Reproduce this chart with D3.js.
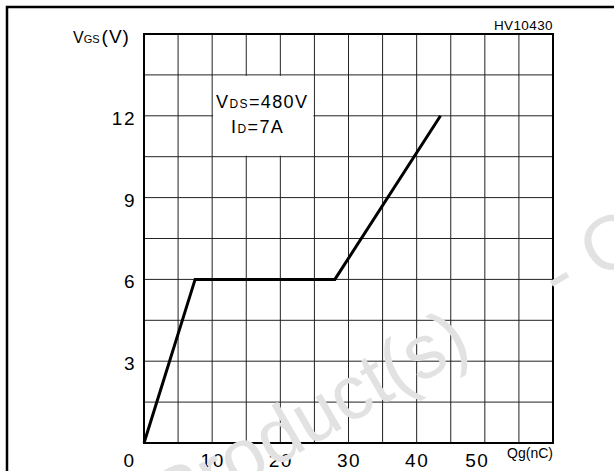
<!DOCTYPE html>
<html>
<head>
<meta charset="utf-8">
<script src="https://cdn.jsdelivr.net/npm/d3@7"></script>
<style>
  body { margin: 0; background: #fff; }
  svg { display: block; }
  text { font-family: "Liberation Sans", Arial, sans-serif; fill: #000; }
</style>
</head>
<body>
<div class="chart"></div>
<script>
// gate charge curve (Qg in nC, Vgs in V)
let qg = [0, 7.5, 28, 43.5];
let vgs = [0, 6, 6, 12];
let xTicks = [0, 10, 20, 30, 40, 50];
let yTicks = [3, 6, 9, 12];
let x_domain = [0, 60];
let y_domain = [0, 15];

let width = 614;
let height = 471;
let plot = { left: 144, right: 553, top: 34, bottom: 443 };

let svg = d3.select(".chart")
  .append("svg")
  .attr("width", width)
  .attr("height", height);

let x = d3.scaleLinear().domain(x_domain).range([plot.left, plot.right]);
let y = d3.scaleLinear().domain(y_domain).range([plot.bottom, plot.top]);

// outer frame (only top and left show in the crop)
svg.append("path")
  .attr("d", "M7," + (height + 5) + " V7 H" + (width + 5))
  .attr("fill", "none")
  .attr("stroke", "#000")
  .attr("stroke-width", 2.5);

// grid
svg.append("g")
  .selectAll("line")
  .data(d3.range(5, 60, 5))
  .enter()
  .append("line")
  .attr("x1", d => x(d)).attr("x2", d => x(d))
  .attr("y1", y(15)).attr("y2", y(0))
  .attr("stroke", "#222")
  .attr("stroke-width", 1);

svg.append("g")
  .selectAll("line")
  .data(d3.range(1.5, 15, 1.5))
  .enter()
  .append("line")
  .attr("x1", x(0)).attr("x2", x(60))
  .attr("y1", d => y(d)).attr("y2", d => y(d))
  .attr("stroke", "#222")
  .attr("stroke-width", 1);

// condition box sits on top of the grid
svg.append("rect")
  .attr("x", x(10) + 1)
  .attr("y", y(13.5) + 1)
  .attr("width", x(25) - x(10) - 2)
  .attr("height", y(10.5) - y(13.5) - 2)
  .attr("fill", "#fff");

let cond = svg.append("g").attr("font-size", 18);
let t1 = cond.append("text").attr("x", 216).attr("y", 108).attr("letter-spacing", 1.4);
t1.append("tspan").text("V");
t1.append("tspan").attr("font-size", 12).text("DS");
t1.append("tspan").text("=480V");
let t2 = cond.append("text").attr("x", 231).attr("y", 133).attr("letter-spacing", 1.4);
t2.append("tspan").text("I");
t2.append("tspan").attr("font-size", 12).text("D");
t2.append("tspan").text("=7A");

// plot border
svg.append("rect")
  .attr("x", x(0)).attr("y", y(15))
  .attr("width", x(60) - x(0))
  .attr("height", y(0) - y(15))
  .attr("fill", "none")
  .attr("stroke", "#000")
  .attr("stroke-width", 2);

// axes: labels only
let xAxis = svg.append("g")
  .attr("transform", "translate(0," + plot.bottom + ")")
  .call(d3.axisBottom(x).tickValues(xTicks).tickSize(0).tickPadding(11));
xAxis.select(".domain").remove();
xAxis.selectAll("text")
  .attr("font-size", 19)
  .attr("letter-spacing", 1.5)
  .attr("font-family", "Liberation Sans, Arial, sans-serif")
  .attr("dx", d => d == 0 ? -15 : (d == 50 ? -8 : 0));

let yAxis = svg.append("g")
  .attr("transform", "translate(" + plot.left + ",0)")
  .call(d3.axisLeft(y).tickValues(yTicks).tickSize(0).tickPadding(8));
yAxis.select(".domain").remove();
yAxis.selectAll("text")
  .attr("font-size", 19)
  .attr("letter-spacing", 1.5)
  .attr("font-family", "Liberation Sans, Arial, sans-serif")
  .attr("dy", "0.45em");

// axis titles
let yt = svg.append("text").attr("x", 73).attr("y", 43).attr("font-size", 16);
yt.append("tspan").text("V");
yt.append("tspan").attr("font-size", 11).text("GS");
yt.append("tspan").attr("font-size", 19).attr("dx", 2).attr("letter-spacing", 1).text("(V)");

svg.append("text")
  .attr("x", 553).attr("y", 458)
  .attr("text-anchor", "end")
  .attr("font-size", 14)
  .text("Qg(nC)");

svg.append("text")
  .attr("x", 553).attr("y", 30)
  .attr("text-anchor", "end")
  .attr("font-size", 13.5)
  .attr("letter-spacing", 0.4)
  .text("HV10430");

// curve
let line = d3.line()
  .x(d => x(d[0]))
  .y(d => y(d[1]));

svg.append("path")
  .datum(d3.zip(qg, vgs))
  .attr("d", line)
  .attr("fill", "none")
  .attr("stroke", "#000")
  .attr("stroke-width", 3)
  .attr("stroke-linejoin", "miter");

// watermark
let wm = svg.append("g")
  .attr("transform", "translate(474,352) rotate(-30)")
  .attr("font-size", 76)
  .style("fill", "#e2e2e2");
wm.append("text")
  .attr("text-anchor", "end")
  .style("fill", "#e2e2e2")
  .text("Obsolete Product(s)");
wm.append("text")
  .attr("x", 98)
  .style("fill", "#e2e2e2")
  .text("- Obsolete Product(s)");
</script>
</body>
</html>
